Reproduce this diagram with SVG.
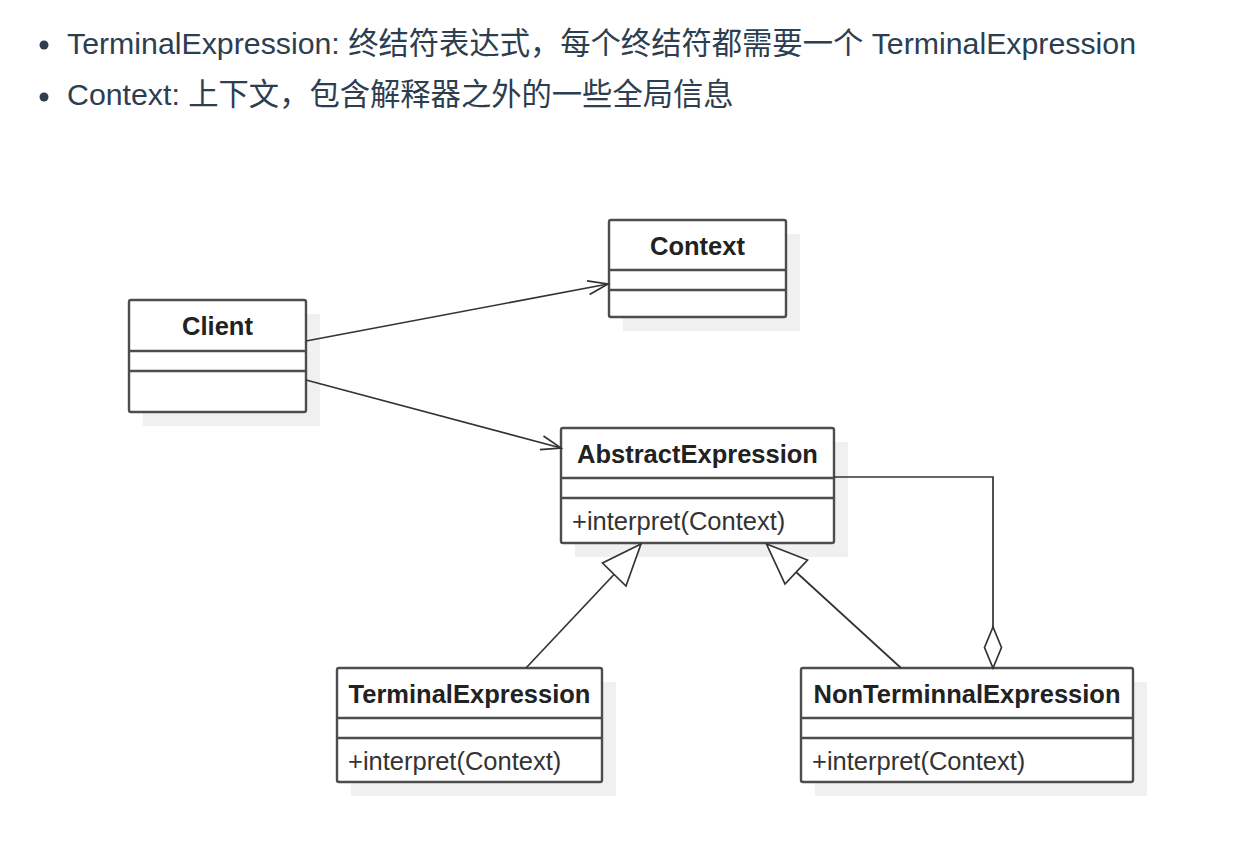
<svg xmlns="http://www.w3.org/2000/svg" width="1250" height="848" viewBox="0 0 1250 848">
  <style>
    .bul { font-family: "Liberation Sans", "Noto Sans CJK SC", sans-serif; font-size: 30.3px; fill: #2c3e50; }
    .shadow { fill: #f0f0f0; stroke: none; }
    .box { fill: #ffffff; stroke: #4d4d4d; stroke-width: 2.4; }
    .sep { stroke: #4d4d4d; stroke-width: 2.4; }
    .name { font-family: "Liberation Sans", Arial, sans-serif; font-size: 25.5px; font-weight: bold; fill: #222222; text-anchor: middle; }
    .op { font-family: "Liberation Sans", Arial, sans-serif; font-size: 25.5px; fill: #333333; }
    .conn { fill: none; stroke: #333333; stroke-width: 1.7; }
    .hollow { fill: #ffffff; stroke: #333333; stroke-width: 1.7; }
  </style>
  <rect width="1250" height="848" fill="#ffffff"/>

  <g id="bullets">
    <circle cx="44" cy="45" r="4.5" fill="#2c3e50"/>
    <text class="bul" x="67" y="54">TerminalExpression: 终结符表达式，每个终结符都需要一个 TerminalExpression</text>
    <circle cx="44" cy="97" r="4.5" fill="#2c3e50"/>
    <text class="bul" x="67" y="105">Context: 上下文，包含解释器之外的一些全局信息</text>
  </g>

  <g id="client">
    <rect class="shadow" x="143" y="314" width="177" height="112"/>
    <rect class="box" x="129" y="300" width="177" height="112" rx="2"/>
    <line class="sep" x1="129" y1="351" x2="306" y2="351"/>
    <line class="sep" x1="129" y1="371" x2="306" y2="371"/>
    <text class="name" x="217.5" y="335">Client</text>
  </g>

  <g id="context">
    <rect class="shadow" x="623" y="234" width="177" height="97"/>
    <rect class="box" x="609" y="220" width="177" height="97" rx="2"/>
    <line class="sep" x1="609" y1="270" x2="786" y2="270"/>
    <line class="sep" x1="609" y1="290" x2="786" y2="290"/>
    <text class="name" x="697.5" y="255">Context</text>
  </g>

  <g id="abstract-expression">
    <rect class="shadow" x="575" y="442" width="273" height="115"/>
    <rect class="box" x="561" y="428" width="273" height="115" rx="2"/>
    <line class="sep" x1="561" y1="478" x2="834" y2="478"/>
    <line class="sep" x1="561" y1="498" x2="834" y2="498"/>
    <text class="name" x="697.5" y="463">AbstractExpression</text>
    <text class="op" x="572" y="530">+interpret(Context)</text>
  </g>

  <g id="terminal-expression">
    <rect class="shadow" x="351" y="682" width="265" height="114"/>
    <rect class="box" x="337" y="668" width="265" height="114" rx="2"/>
    <line class="sep" x1="337" y1="718" x2="602" y2="718"/>
    <line class="sep" x1="337" y1="738" x2="602" y2="738"/>
    <text class="name" x="469.5" y="703">TerminalExpression</text>
    <text class="op" x="348" y="770">+interpret(Context)</text>
  </g>

  <g id="nonterminal-expression">
    <rect class="shadow" x="815" y="682" width="332" height="114"/>
    <rect class="box" x="801" y="668" width="332" height="114" rx="2"/>
    <line class="sep" x1="801" y1="718" x2="1133" y2="718"/>
    <line class="sep" x1="801" y1="738" x2="1133" y2="738"/>
    <text class="name" x="967" y="703">NonTerminnalExpression</text>
    <text class="op" x="812" y="770">+interpret(Context)</text>
  </g>

  <g id="connectors">
    <line class="conn" x1="306" y1="341" x2="608" y2="284"/>
    <polyline class="conn" points="587,280.8 608,284 589.6,294.6"/>
    <line class="conn" x1="306" y1="380" x2="561" y2="448"/>
    <polyline class="conn" points="543.5,436 561,448 539.9,449.6"/>
    <line class="conn" x1="614" y1="574.5" x2="526" y2="668"/>
    <polygon class="hollow" points="641,544 602.5,563 626,586"/>
    <line class="conn" x1="796" y1="572" x2="901" y2="668"/>
    <polygon class="hollow" points="766.5,544 807.5,560 785,584"/>
    <polyline class="conn" points="834,477 993,477 993,627"/>
    <polygon class="hollow" points="993,627 984.5,647.5 993,668 1001.5,647.5"/>
  </g>
</svg>
